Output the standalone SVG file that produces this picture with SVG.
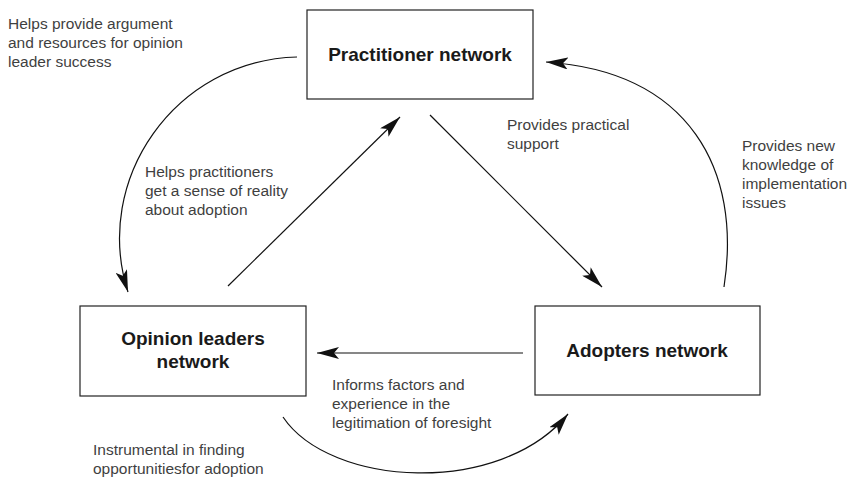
<svg xmlns="http://www.w3.org/2000/svg" width="862" height="493" viewBox="0 0 862 493">
<defs>
<marker id="ah" viewBox="0 0 22 12" refX="22" refY="6" markerWidth="22" markerHeight="12" markerUnits="userSpaceOnUse" orient="auto">
<path d="M0,0 L22,6 L0,12 L5,6 Z" fill="#111"/>
</marker>
</defs>
<style>
.box{fill:#fff;stroke:#222;stroke-width:1.2}
.bt{font-family:"Liberation Sans",Arial,sans-serif;font-weight:bold;font-size:19px;fill:#1a1a1a;text-anchor:middle}
.lt{font-family:"Liberation Sans",Arial,sans-serif;font-size:15.5px;fill:#3f3f3f}
.c{fill:none;stroke:#111;stroke-width:1.2;marker-end:url(#ah)}
</style>
<rect width="862" height="493" fill="#fff"/>
<g id="connectors">
<path class="c" d="M430,115 L602,287"/>
<path class="c" d="M228,286 L400,117"/>
<path class="c" d="M523,353 L317,353"/>
<path class="c" d="M297,57 C175,60 92,180 128,292"/>
<path class="c" d="M724,287 C742,170 690,72 546,62"/>
<path class="c" d="M283,417 C330,487 500,497 568,414"/>
</g>
<g id="practitioner">
<rect class="box" x="307" y="10" width="226" height="89"/>
<text class="bt" x="420" y="61">Practitioner network</text>
</g>
<g id="opinion">
<rect class="box" x="80" y="306" width="226" height="90"/>
<text class="bt" x="193" y="345">Opinion leaders</text>
<text class="bt" x="193" y="368">network</text>
</g>
<g id="adopters">
<rect class="box" x="535" y="306" width="225" height="89"/>
<text class="bt" x="647" y="357">Adopters network</text>
</g>
<g id="labels">
<text class="lt" x="8" y="29">Helps provide argument</text>
<text class="lt" x="8" y="48">and resources for opinion</text>
<text class="lt" x="8" y="67">leader success</text>
<text class="lt" x="145" y="177">Helps practitioners</text>
<text class="lt" x="145" y="196">get a sense of reality</text>
<text class="lt" x="145" y="215">about adoption</text>
<text class="lt" x="507" y="130">Provides practical</text>
<text class="lt" x="507" y="149">support</text>
<text class="lt" x="742" y="151">Provides new</text>
<text class="lt" x="742" y="170">knowledge of</text>
<text class="lt" x="742" y="189">implementation</text>
<text class="lt" x="742" y="208">issues</text>
<text class="lt" x="332" y="390">Informs factors and</text>
<text class="lt" x="332" y="409">experience in the</text>
<text class="lt" x="332" y="428">legitimation of foresight</text>
<text class="lt" x="93" y="455">Instrumental in finding</text>
<text class="lt" x="93" y="474">opportunitiesfor adoption</text>
</g>
</svg>
